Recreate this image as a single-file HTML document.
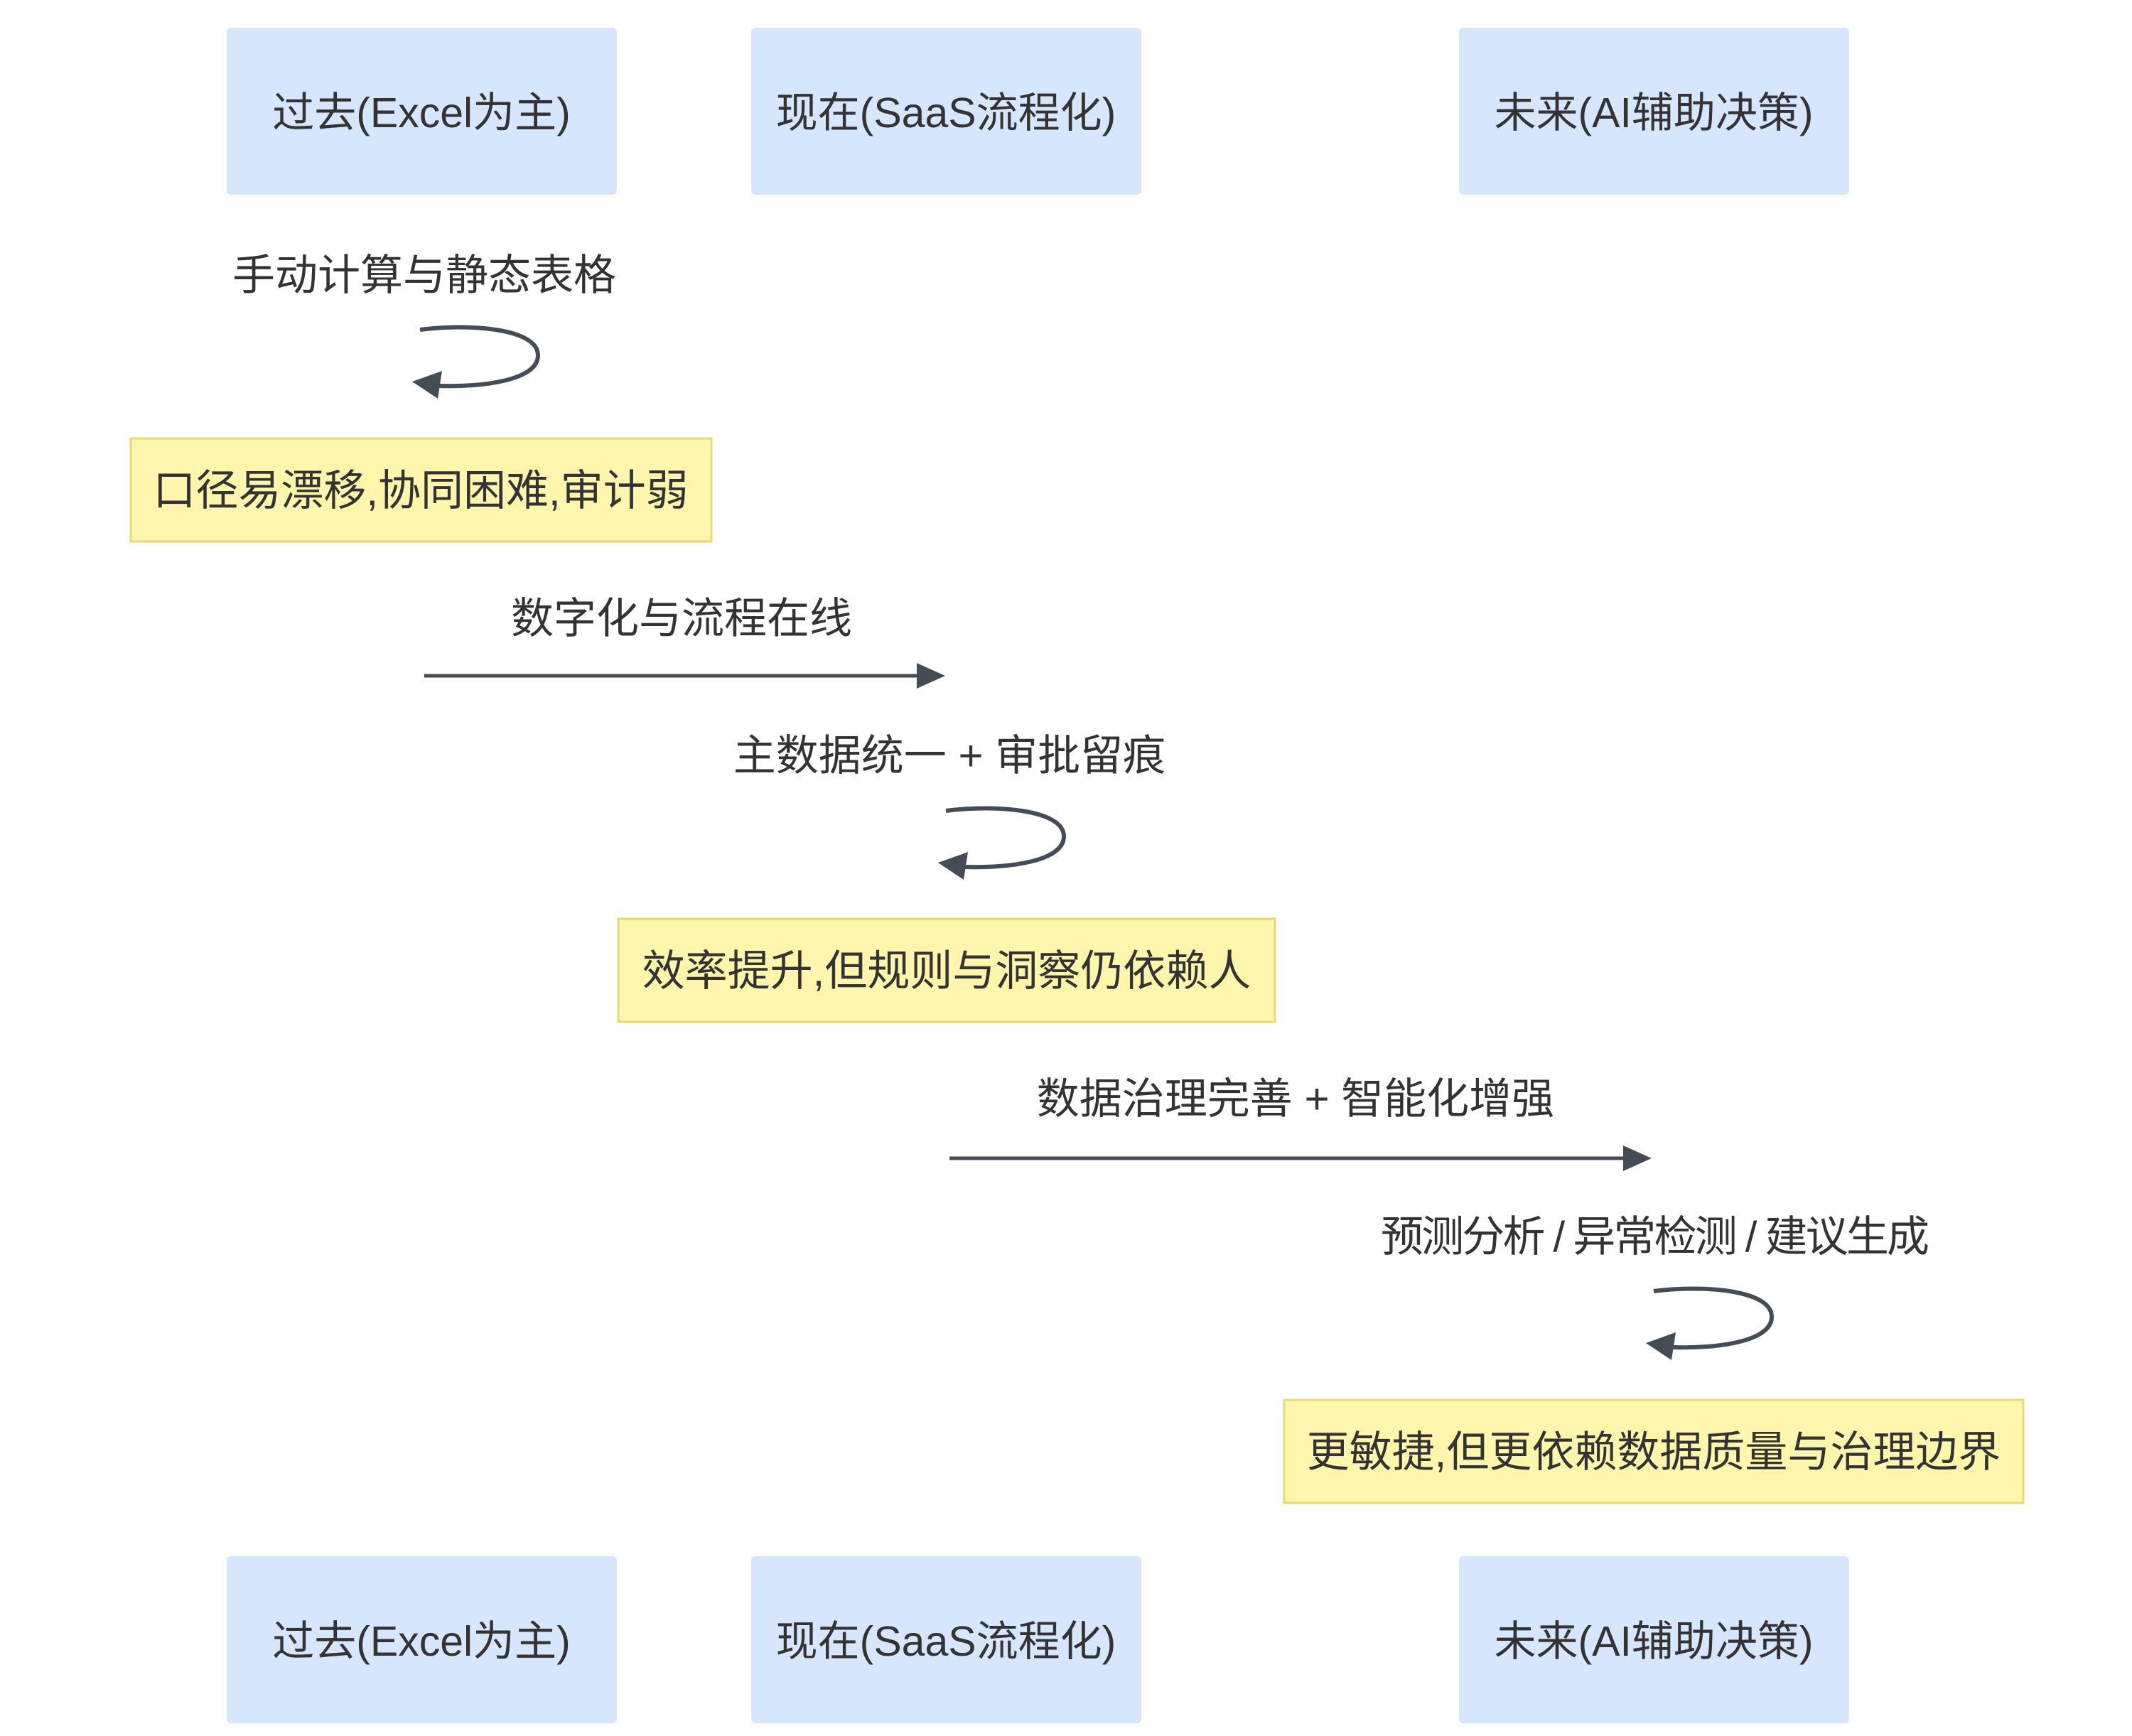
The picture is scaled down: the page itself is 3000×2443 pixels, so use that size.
<!DOCTYPE html>
<html><head><meta charset="utf-8"><style>
html,body{margin:0;padding:0;background:#fff;}
svg{display:block}
text{font-family:"Liberation Sans","Noto Sans CJK SC",sans-serif;fill:#333;}
</style></head><body>
<svg width="3000" height="2443" viewBox="0 0 3000 2443" xmlns="http://www.w3.org/2000/svg">
<defs>
<g id="loop">
<path d="M591,464 C660,455 757,462 757,500 C757,535 680,545 618,543" fill="none" stroke="#444c55" stroke-width="6"/>
<polygon points="580,537 622,522 616,561" fill="#444c55"/>
</g>
</defs>
<rect x="319" y="39" width="549" height="235" rx="6" fill="#d6e7fd"/>
<rect x="1057" y="39" width="549" height="235" rx="6" fill="#d6e7fd"/>
<rect x="2053" y="39" width="549" height="235" rx="6" fill="#d6e7fd"/>
<text x="593" y="179" font-size="59" text-anchor="middle">过去(Excel为主)</text>
<text x="1331" y="179" font-size="59" text-anchor="middle">现在(SaaS流程化)</text>
<text x="2327" y="179" font-size="59" text-anchor="middle">未来(AI辅助决策)</text>
<rect x="319" y="2190" width="549" height="235" rx="6" fill="#d6e7fd"/>
<rect x="1057" y="2190" width="549" height="235" rx="6" fill="#d6e7fd"/>
<rect x="2053" y="2190" width="549" height="235" rx="6" fill="#d6e7fd"/>
<text x="593" y="2330" font-size="59" text-anchor="middle">过去(Excel为主)</text>
<text x="1331" y="2330" font-size="59" text-anchor="middle">现在(SaaS流程化)</text>
<text x="2327" y="2330" font-size="59" text-anchor="middle">未来(AI辅助决策)</text>

<text x="597" y="408" font-size="60" text-anchor="middle">手动计算与静态表格</text>
<use href="#loop"/>
<rect x="184" y="617" width="817" height="145" fill="#fff5ad" stroke="#e6d97a" stroke-width="3"/>
<text x="592" y="711" font-size="60" text-anchor="middle">口径易漂移,协同困难,审计弱</text>

<text x="959" y="891" font-size="60" text-anchor="middle">数字化与流程在线</text>
<line x1="597" y1="951" x2="1295" y2="951" stroke="#444c55" stroke-width="5"/>
<polygon points="1330,951 1290,933 1290,969" fill="#444c55"/>

<text x="1336" y="1084" font-size="60" text-anchor="middle">主数据统一 + 审批留痕</text>
<use href="#loop" transform="translate(740,677)"/>
<rect x="870" y="1293" width="924" height="145" fill="#fff5ad" stroke="#e6d97a" stroke-width="3"/>
<text x="1332" y="1387" font-size="60" text-anchor="middle">效率提升,但规则与洞察仍依赖人</text>

<text x="1823" y="1567" font-size="60" text-anchor="middle">数据治理完善 + 智能化增强</text>
<line x1="1336" y1="1630" x2="2290" y2="1630" stroke="#444c55" stroke-width="5"/>
<polygon points="2324,1630 2284,1612 2284,1648" fill="#444c55"/>

<text x="2329" y="1761" font-size="60" text-anchor="middle" textLength="772" lengthAdjust="spacing">预测分析 / 异常检测 / 建议生成</text>
<use href="#loop" transform="translate(1736,1353)"/>
<rect x="1807" y="1970" width="1040" height="145" fill="#fff5ad" stroke="#e6d97a" stroke-width="3"/>
<text x="2327" y="2064" font-size="60" text-anchor="middle">更敏捷,但更依赖数据质量与治理边界</text>
</svg>
</body></html>
